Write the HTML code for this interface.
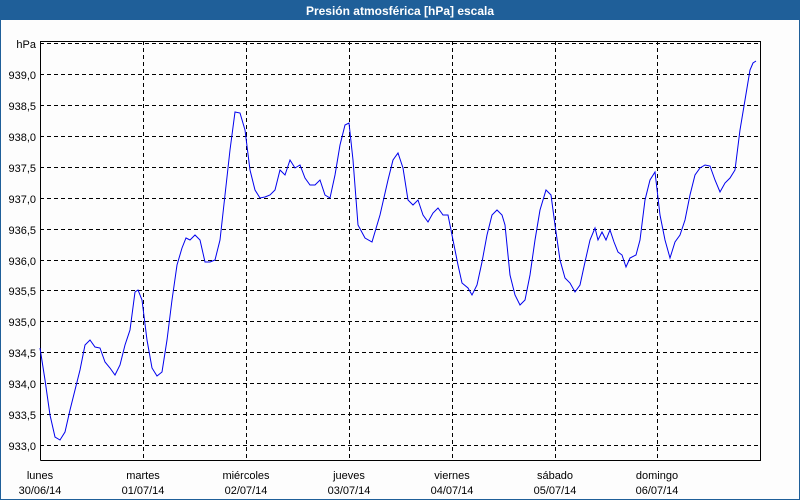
<!DOCTYPE html>
<html><head><meta charset="utf-8"><style>
html,body{margin:0;padding:0;width:800px;height:500px;overflow:hidden;background:#fff}
</style></head><body>
<svg width="800" height="500" xmlns="http://www.w3.org/2000/svg" font-family="Liberation Sans, sans-serif" font-size="11">
<rect x="0" y="0" width="800" height="500" fill="#1f5f99"/>
<rect x="1" y="20" width="798" height="479" fill="#fdfdfd"/>
<text x="400" y="15" fill="#fff" font-weight="bold" font-size="12" text-anchor="middle">Presión atmosférica [hPa] escala</text>
<g stroke="#000" stroke-dasharray="4,3" stroke-width="1" shape-rendering="crispEdges">
<line x1="40" y1="43.5" x2="760" y2="43.5"/>
<line x1="40" y1="74.5" x2="760" y2="74.5"/>
<line x1="40" y1="105.5" x2="760" y2="105.5"/>
<line x1="40" y1="136.5" x2="760" y2="136.5"/>
<line x1="40" y1="167.5" x2="760" y2="167.5"/>
<line x1="40" y1="198.5" x2="760" y2="198.5"/>
<line x1="40" y1="229.5" x2="760" y2="229.5"/>
<line x1="40" y1="260.5" x2="760" y2="260.5"/>
<line x1="40" y1="290.5" x2="760" y2="290.5"/>
<line x1="40" y1="321.5" x2="760" y2="321.5"/>
<line x1="40" y1="352.5" x2="760" y2="352.5"/>
<line x1="40" y1="383.5" x2="760" y2="383.5"/>
<line x1="40" y1="414.5" x2="760" y2="414.5"/>
<line x1="40" y1="445.5" x2="760" y2="445.5"/>
<line x1="143.5" y1="41" x2="143.5" y2="460"/>
<line x1="246.5" y1="41" x2="246.5" y2="460"/>
<line x1="349.5" y1="41" x2="349.5" y2="460"/>
<line x1="452.5" y1="41" x2="452.5" y2="460"/>
<line x1="555.5" y1="41" x2="555.5" y2="460"/>
<line x1="657.5" y1="41" x2="657.5" y2="460"/>
</g>
<path d="M40.5 460.5V41.5H760.5V460.5H40.5" fill="none" stroke="#000" shape-rendering="crispEdges"/>
<g fill="#000" text-anchor="end">
<text x="36" y="48">hPa</text>
<text x="36" y="79">939,0</text>
<text x="36" y="110">938,5</text>
<text x="36" y="141">938,0</text>
<text x="36" y="172">937,5</text>
<text x="36" y="203">937,0</text>
<text x="36" y="234">936,5</text>
<text x="36" y="265">936,0</text>
<text x="36" y="295">935,5</text>
<text x="36" y="326">935,0</text>
<text x="36" y="357">934,5</text>
<text x="36" y="388">934,0</text>
<text x="36" y="419">933,5</text>
<text x="36" y="450">933,0</text>
</g>
<g fill="#000" text-anchor="middle">
<text x="40" y="479">lunes</text><text x="40" y="494">30/06/14</text>
<text x="143" y="479">martes</text><text x="143" y="494">01/07/14</text>
<text x="246" y="479">miércoles</text><text x="246" y="494">02/07/14</text>
<text x="349" y="479">jueves</text><text x="349" y="494">03/07/14</text>
<text x="452" y="479">viernes</text><text x="452" y="494">04/07/14</text>
<text x="555" y="479">sábado</text><text x="555" y="494">05/07/14</text>
<text x="657" y="479">domingo</text><text x="657" y="494">06/07/14</text>
</g>
<polyline fill="none" stroke="#0000ee" stroke-width="1" points="40,348 45,380 50,415 55,437 60,440 65,432 70,410 75,390 80,370 85,345 90,340 95,347 100,348 105,362 110,368 115,375 120,365 125,345 130,330 135,292 138,290 142,300 147,340 152,368 157,376 162,372 167,340 172,300 177,265 182,248 186,238 190,240 195,235 200,240 205,262 210,262 215,260 220,240 225,195 230,150 235,112 240,113 245,130 250,170 255,190 260,198 265,197 270,195 275,190 280,170 285,175 290,160 295,168 300,165 305,178 310,185 315,185 320,180 325,195 330,198 335,175 340,145 345,125 349,123 353,160 358,225 365,238 372,242 380,215 388,180 393,160 398,153 403,168 408,200 413,205 418,200 423,215 428,222 433,213 438,208 443,215 448,215 453,240 458,265 462,283 468,288 472,295 477,285 482,262 487,235 492,215 497,210 502,215 505,225 510,275 515,295 520,305 525,300 530,275 535,240 540,210 546,190 551,195 555,225 560,260 565,278 570,283 575,292 580,285 585,262 590,240 595,228 598,240 602,232 606,240 610,230 614,242 618,252 622,255 626,267 630,258 636,255 640,240 645,200 650,180 655,172 660,215 665,240 670,258 675,242 680,235 685,220 690,195 695,175 700,168 705,165 710,166 715,180 720,192 725,183 730,178 735,170 740,130 745,100 750,70 753,63 756,61"/>
</svg>
</body></html>
